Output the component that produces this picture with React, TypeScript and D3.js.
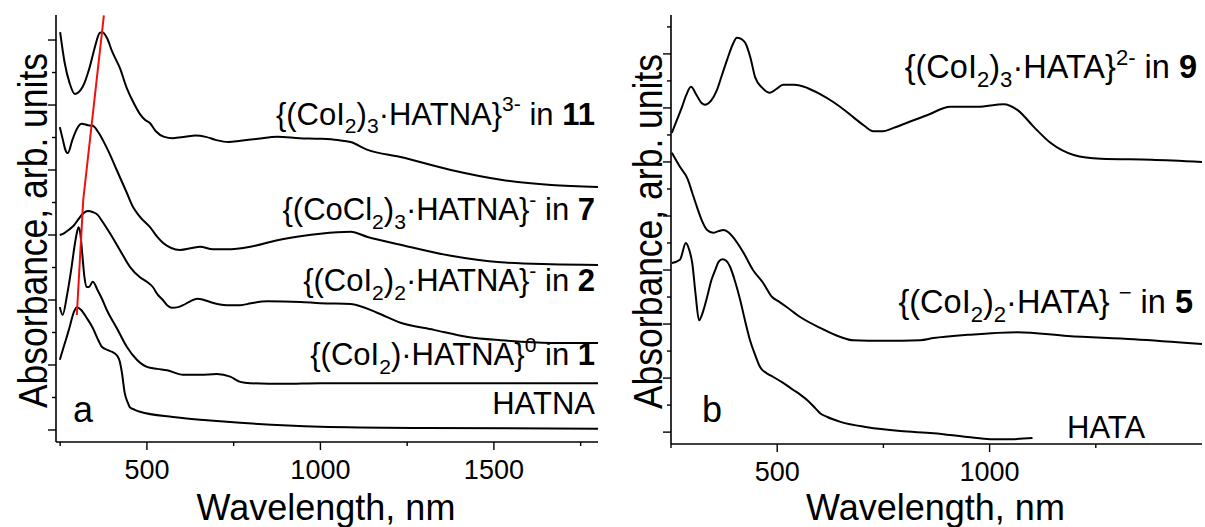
import React from "react";
import * as d3 from "d3";

const FONT = "'Liberation Sans', Arial, Helvetica, sans-serif";

// ---- Panel a: HATNA series, [wavelength nm, absorbance (offset, arb. units)] ----
const specCo3I_11: [number, number][] = [
  [250, 6.12], [263, 5.65], [277, 5.34], [292, 5.17], [315, 5.28], [335, 5.58], [350, 5.89],
  [364, 6.11], [372, 6.12], [385, 6.03], [400, 5.82], [422, 5.57], [442, 5.26], [462, 5.03],
  [480, 4.86], [495, 4.77], [509, 4.72], [525, 4.6], [550, 4.51], [575, 4.49], [610, 4.51],
  [640, 4.53], [670, 4.51], [700, 4.46], [735, 4.43], [770, 4.45], [820, 4.48], [876, 4.51],
  [940, 4.49], [1000, 4.48], [1050, 4.46], [1087, 4.43], [1136, 4.31], [1231, 4.2],
  [1376, 4.0], [1520, 3.85], [1665, 3.77], [1800, 3.74],
];
const specCoCl3_7: [number, number][] = [
  [249, 4.66], [258, 4.46], [265, 4.31], [272, 4.26], [285, 4.46], [300, 4.65], [312, 4.71],
  [330, 4.69], [344, 4.68], [360, 4.58], [373, 4.46], [390, 4.28], [413, 4.0], [442, 3.65],
  [460, 3.43], [480, 3.28], [509, 3.12], [530, 2.97], [546, 2.88], [570, 2.8], [595, 2.77],
  [630, 2.8], [653, 2.82], [690, 2.78], [731, 2.78], [798, 2.82], [876, 2.92], [942, 2.98],
  [1000, 3.02], [1087, 3.05], [1136, 2.97], [1231, 2.85], [1376, 2.68], [1520, 2.58],
  [1665, 2.55], [1800, 2.54],
];
const specCo2I_2: [number, number][] = [
  [249, 3.0], [262, 3.03], [275, 3.08], [290, 3.15], [305, 3.26], [318, 3.34], [330, 3.37],
  [345, 3.35], [358, 3.31], [375, 3.18], [393, 3.03], [422, 2.77], [451, 2.51], [480, 2.35],
  [500, 2.28], [517, 2.2], [530, 2.09], [546, 2.0], [560, 1.91], [572, 1.88], [590, 1.89],
  [604, 1.92], [625, 1.98], [645, 2.02], [665, 2.0], [682, 1.97], [731, 1.92], [769, 1.92],
  [800, 1.95], [847, 1.98], [942, 1.97], [1000, 1.95], [1087, 1.94], [1165, 1.8],
  [1231, 1.65], [1327, 1.54], [1425, 1.43], [1520, 1.38], [1665, 1.34], [1800, 1.34],
];
const specCoI_1: [number, number][] = [
  [249, 1.89], [257, 1.77], [270, 2.08], [283, 2.51], [292, 2.85], [298, 3.03], [303, 3.12],
  [308, 3.03], [314, 2.69], [320, 2.35], [326, 2.2], [333, 2.2], [344, 2.28], [358, 2.15],
  [372, 2.0], [384, 1.85], [413, 1.57], [442, 1.28], [471, 1.08], [500, 0.97], [530, 0.94],
  [558, 0.92], [604, 0.85], [653, 0.85], [702, 0.86], [740, 0.82], [769, 0.74], [798, 0.72],
  [893, 0.71], [1000, 0.72], [1300, 0.72], [1800, 0.72],
];
const specHATNA: [number, number][] = [
  [249, 1.08], [262, 1.31], [275, 1.54], [290, 1.82], [298, 1.89], [310, 1.85], [327, 1.72],
  [344, 1.57], [360, 1.38], [370, 1.28], [387, 1.23], [400, 1.2], [413, 1.15], [422, 1.05],
  [428, 0.88], [436, 0.57], [445, 0.42], [451, 0.35], [465, 0.31], [480, 0.28], [575, 0.2],
  [673, 0.15], [769, 0.11], [1000, 0.05], [1300, 0.03], [1800, 0.02],
];
// shift of the main UV band through the series
const bandShift: [number, number][] = [[376, 6.38], [316.5, 3.54], [298, 1.77]];

// ---- Panel b: HATA series ----
const specCo3I_9: [number, number][] = [
  [252, 5.54], [264, 5.78], [276, 6.02], [286, 6.24], [297, 6.39], [310, 6.24], [322, 6.09],
  [330, 6.06], [344, 6.13], [358, 6.33], [370, 6.61], [382, 6.89], [395, 7.17], [405, 7.3],
  [415, 7.28], [425, 7.2], [437, 6.93], [448, 6.57], [465, 6.37], [483, 6.28], [498, 6.35],
  [514, 6.43], [540, 6.43], [571, 6.37], [600, 6.26], [632, 6.11], [655, 5.98], [679, 5.83],
  [705, 5.67], [726, 5.57], [750, 5.57], [774, 5.63], [810, 5.74], [854, 5.87], [908, 6.02],
  [972, 6.02], [1033, 6.07], [1066, 5.96], [1104, 5.65], [1144, 5.35], [1198, 5.13],
  [1262, 5.06], [1380, 5.04], [1500, 5.0],
];
const specCo2I_5: [number, number][] = [
  [252, 5.17], [271, 4.91], [290, 4.67], [300, 4.43], [311, 4.17], [322, 3.93], [335, 3.74],
  [349, 3.69], [362, 3.72], [373, 3.74], [385, 3.7], [396, 3.61], [420, 3.33], [443, 3.0],
  [467, 2.76], [488, 2.5], [505, 2.41], [523, 2.31], [554, 2.13], [601, 1.93], [649, 1.76],
  [679, 1.7], [750, 1.69], [837, 1.7], [868, 1.74], [948, 1.8], [1066, 1.85], [1184, 1.78],
  [1340, 1.72], [1500, 1.63],
];
const specHATA: [number, number][] = [
  [252, 3.13], [271, 3.19], [285, 3.5], [293, 3.37], [300, 3.13], [308, 2.54], [316, 2.07],
  [325, 2.22], [335, 2.5], [345, 2.81], [354, 3.0], [362, 3.15], [371, 3.2], [380, 3.17],
  [389, 3.06], [400, 2.81], [413, 2.44], [425, 2.04], [436, 1.7], [448, 1.43], [460, 1.2],
  [475, 1.09], [491, 1.02], [514, 0.91], [538, 0.78], [555, 0.69], [571, 0.59], [590, 0.44],
  [601, 0.35], [618, 0.28], [649, 0.19], [712, 0.09], [790, 0.02], [868, -0.02], [948, -0.09],
  [1002, -0.13], [1050, -0.13], [1101, -0.11],
];

// ---- axis ticks ----
const aMajorX = [500, 1000, 1500];
const aMinorX = [250, 750, 1250, 1750];
const bMajorX = [500, 1000];
const bMinorX = [250, 750, 1250];
const aMajorY = [0, 1, 2, 3, 4, 5, 6];
const aMinorY = [0.5, 1.5, 2.5, 3.5, 4.5, 5.5];
const bMajorY = [0, 1, 2, 3, 4, 5, 6, 7];
const bMinorY = [0.5, 1.5, 2.5, 3.5, 4.5, 5.5, 6.5, 7.5];

type Part = { t: string; k?: "sub" | "sup" | "b" };

const labelsA: { parts: Part[]; v: number }[] = [
  { parts: [{ t: "{(CoI" }, { t: "2", k: "sub" }, { t: ")" }, { t: "3", k: "sub" }, { t: "·HATNA}" }, { t: "3-", k: "sup" }, { t: " in " }, { t: "11", k: "b" }], v: 4.7 },
  { parts: [{ t: "{(CoCl" }, { t: "2", k: "sub" }, { t: ")" }, { t: "3", k: "sub" }, { t: "·HATNA}" }, { t: "-", k: "sup" }, { t: " in " }, { t: "7", k: "b" }], v: 3.23 },
  { parts: [{ t: "{(CoI" }, { t: "2", k: "sub" }, { t: ")" }, { t: "2", k: "sub" }, { t: "·HATNA}" }, { t: "-", k: "sup" }, { t: " in " }, { t: "2", k: "b" }], v: 2.14 },
  { parts: [{ t: "{(CoI" }, { t: "2", k: "sub" }, { t: ")·HATNA}" }, { t: "0", k: "sup" }, { t: " in " }, { t: "1", k: "b" }], v: 1.0 },
  { parts: [{ t: "HATNA" }], v: 0.25 },
];

function Label({ x, y, anchor, size, parts }: { x: number; y: number; anchor: string; size: number; parts: Part[] }) {
  let shift = 0;
  return (
    <text x={x} y={y} textAnchor={anchor} fontSize={size} fontFamily={FONT} fill="#000" style={{ whiteSpace: "pre" }}>
      {parts.map((p, i) => {
        const target = p.k === "sub" ? size * 0.28 : p.k === "sup" ? -size * 0.42 : 0;
        const dy = target - shift;
        shift = target;
        const small = p.k === "sub" || p.k === "sup";
        return (
          <tspan key={i} dy={dy} fontSize={small ? size * 0.68 : size} fontWeight={p.k === "b" ? "bold" : undefined}>
            {p.t}
          </tspan>
        );
      })}
    </text>
  );
}

function Panel({
  x, y, majorX, minorX, majorY, minorY, series, children,
}: {
  x: d3.ScaleLinear<number, number>;
  y: d3.ScaleLinear<number, number>;
  majorX: number[]; minorX: number[]; majorY: number[]; minorY: number[];
  series: [number, number][][];
  children?: React.ReactNode;
}) {
  const [x0, x1] = x.range();
  const [yb, yt] = y.range();
  const line = d3.line<[number, number]>().x((d) => x(d[0])).y((d) => y(d[1])).curve(d3.curveMonotoneX);
  return (
    <g>
      {series.map((s, i) => (
        <path key={i} d={line(s) || ""} fill="none" stroke="#000" strokeWidth={2} strokeLinejoin="round" />
      ))}
      {children}
      <line x1={x0} x2={x0} y1={yt} y2={yb} stroke="#000" strokeWidth={1.6} />
      <line x1={x0} x2={x1} y1={yb} y2={yb} stroke="#000" strokeWidth={1.6} />
      {majorY.map((v) => (
        <line key={"my" + v} x1={x0 - 8} x2={x0} y1={y(v)} y2={y(v)} stroke="#000" strokeWidth={1.4} />
      ))}
      {minorY.map((v) => (
        <line key={"ny" + v} x1={x0 - 4} x2={x0} y1={y(v)} y2={y(v)} stroke="#000" strokeWidth={1.4} />
      ))}
      {majorX.map((v) => (
        <g key={"mx" + v}>
          <line x1={x(v)} x2={x(v)} y1={yb} y2={yb + 8} stroke="#000" strokeWidth={1.4} />
          <text x={x(v)} y={yb + 37} textAnchor="middle" fontSize={27} fontFamily={FONT}>{v}</text>
        </g>
      ))}
      {minorX.map((v) => (
        <line key={"nx" + v} x1={x(v)} x2={x(v)} y1={yb} y2={yb + 4} stroke="#000" strokeWidth={1.4} />
      ))}
      <text x={(x0 + x1) / 2 - 1} y={520} textAnchor="middle" fontSize={36} fontFamily={FONT}>Wavelength, nm</text>
      <text transform={`translate(${x0 - 9},${(yt + yb) / 2 + 2}) rotate(-90) scale(1,1.15)`} textAnchor="middle" fontSize={35.5} fontFamily={FONT}>
        Absorbance, arb. units
      </text>
    </g>
  );
}

export default function App() {
  const xA = d3.scaleLinear().domain([238, 1800]).range([56, 598]);
  const yA = d3.scaleLinear().domain([-0.185, 6.385]).range([442, 15]);
  const xB = d3.scaleLinear().domain([250, 1500]).range([671, 1202]);
  const yB = d3.scaleLinear().domain([-0.22, 7.72]).range([444, 15]);
  const shiftLine = d3.line<[number, number]>().x((d) => xA(d[0])).y((d) => yA(d[1]));

  return (
    <svg width={1205} height={527} style={{ position: "absolute", left: 0, top: 0, background: "#fff" }}>
      <rect width={1205} height={527} fill="#fff" />
      <Panel x={xA} y={yA} majorX={aMajorX} minorX={aMinorX} majorY={aMajorY} minorY={aMinorY}
        series={[specCo3I_11, specCoCl3_7, specCo2I_2, specCoI_1, specHATNA]}>
        <path d={shiftLine(bandShift) || ""} fill="none" stroke="#f01010" strokeWidth={2} />
        {labelsA.map((l, i) => (
          <Label key={i} x={595} y={yA(l.v)} anchor="end" size={31} parts={l.parts} />
        ))}
        <text x={73} y={422} fontSize={36} fontFamily={FONT}>a</text>
      </Panel>
      <Panel x={xB} y={yB} majorX={bMajorX} minorX={bMinorX} majorY={bMajorY} minorY={bMinorY}
        series={[specCo3I_9, specCo2I_5, specHATA]}>
        <Label x={1197} y={yB(6.55)} anchor="end" size={32.5}
          parts={[{ t: "{(CoI" }, { t: "2", k: "sub" }, { t: ")" }, { t: "3", k: "sub" }, { t: "·HATA}" }, { t: "2-", k: "sup" }, { t: " in " }, { t: "9", k: "b" }]} />
        <Label x={1193} y={yB(2.2)} anchor="end" size={32.5}
          parts={[{ t: "{(CoI" }, { t: "2", k: "sub" }, { t: ")" }, { t: "2", k: "sub" }, { t: "·HATA} " }, { t: "−", k: "sup" }, { t: " in " }, { t: "5", k: "b" }]} />
        <text x={1067} y={yB(-0.11)} fontSize={31} fontFamily={FONT}>HATA</text>
        <text x={702} y={422} fontSize={36} fontFamily={FONT}>b</text>
      </Panel>
    </svg>
  );
}
